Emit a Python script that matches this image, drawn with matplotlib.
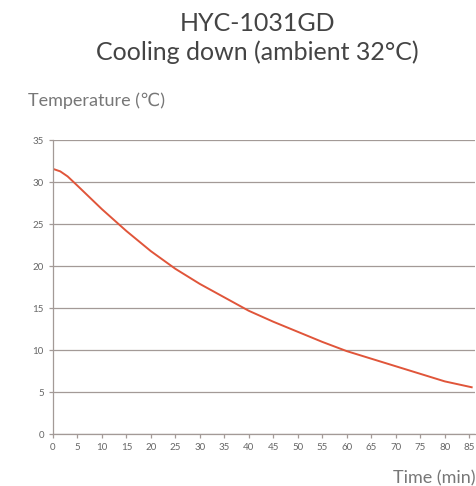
import matplotlib
matplotlib.use('Agg')
import matplotlib.pyplot as plt

# 读图估计的数据
time_min = [0, 1.5, 3, 5, 7.5, 10, 12.5, 15, 20, 25, 30, 35, 40, 45, 50, 55, 60, 65, 70, 75, 80, 85.5]
temp_c = [31.6, 31.3, 30.7, 29.6, 28.2, 26.8, 25.5, 24.2, 21.8, 19.7, 17.9, 16.3, 14.7, 13.4, 12.2, 11.0, 9.9, 9.0, 8.1, 7.2, 6.3, 5.6]
x_ticks = list(range(0, 90, 5))
y_ticks = list(range(0, 40, 5))

title_lines = ["HYC-1031GD", "Cooling down (ambient 32°C)"]
y_label = "Temperature (℃)"
x_label = "Time (min)"

plt.rcParams['font.family'] = ['Lato', 'DejaVu Sans']

fig = plt.figure(figsize=(4.77, 4.86), dpi=100)
ax = fig.add_axes([0.111, 0.1064, 0.885, 0.6049])

ax.plot(time_min, temp_c, color='#e0553a', linewidth=1.4)

ax.set_xlim(0, 86.2)
ax.set_ylim(0, 35)
ax.set_xticks(x_ticks)
ax.set_yticks(y_ticks)
ax.yaxis.grid(True, color='#a39a97', linewidth=0.9)
ax.set_axisbelow(True)

for s in ['top', 'right']:
    ax.spines[s].set_visible(False)
for s in ['left', 'bottom']:
    ax.spines[s].set_color('#a39a97')
    ax.spines[s].set_linewidth(0.9)
ax.tick_params(axis='both', colors='#a39a97', length=3, width=0.9, labelsize=7, labelcolor='#666666')

fig.text(0.539, 0.951, title_lines[0], ha='center', va='center', fontsize=18, color='#444444')
fig.text(0.539, 0.892, title_lines[1], ha='center', va='center', fontsize=18, color='#444444')
fig.text(0.058, 0.792, y_label, ha='left', va='center', fontsize=13, color='#777777')
fig.text(0.996, 0.0165, x_label, ha='right', va='center', fontsize=13, color='#777777')

fig.savefig('out.png', dpi=100)
